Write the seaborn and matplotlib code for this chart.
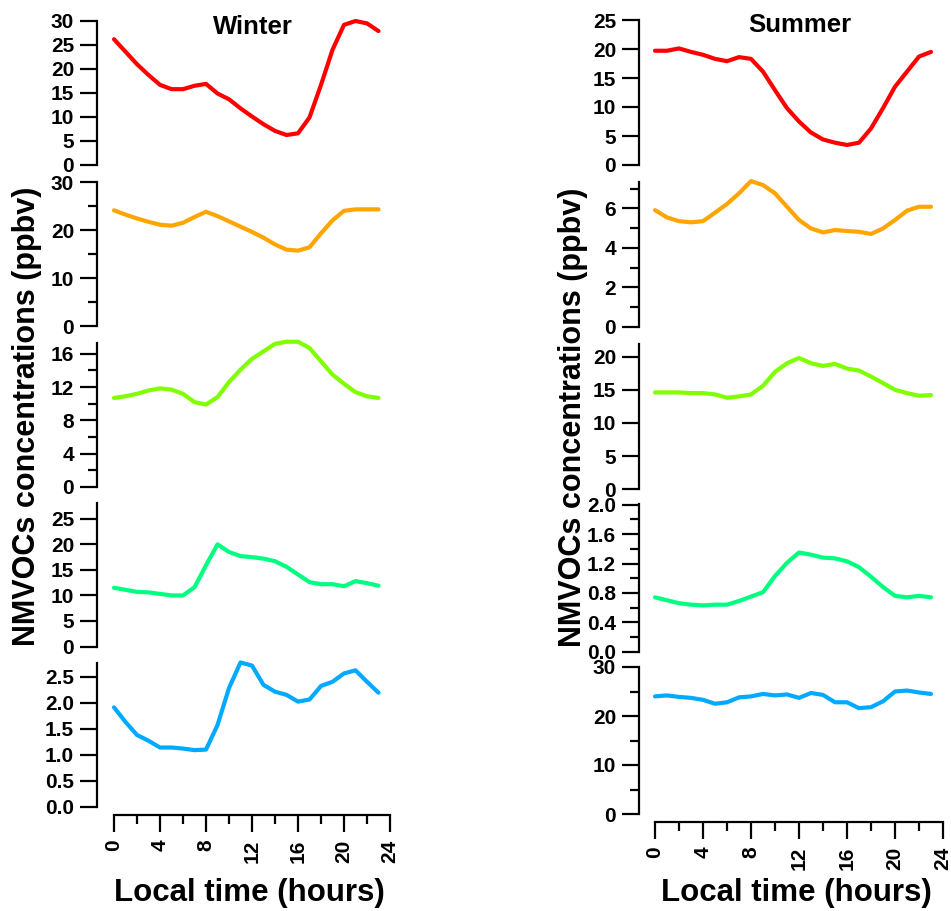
import matplotlib
matplotlib.use("Agg")
import matplotlib.pyplot as plt
import numpy as np
import pandas as pd
import seaborn as sns
from matplotlib.ticker import MultipleLocator, FormatStrFormatter

# ---------------- data ----------------
hours = list(range(24))

winter_red = [26.2, 23.6, 21.0, 18.75, 16.7, 15.8, 15.8, 16.5, 16.9, 14.9, 13.7, 11.8,
              10.1, 8.5, 7.1, 6.25, 6.6, 9.9, 16.7, 24.0, 29.2, 30.0, 29.5, 27.9]
winter_orange = [24.1, 23.2, 22.4, 21.7, 21.1, 20.9, 21.5, 22.7, 23.8, 22.9, 21.8, 20.7,
                 19.6, 18.4, 17.0, 15.9, 15.7, 16.4, 19.3, 22.0, 24.0, 24.3, 24.3, 24.3]
winter_lime = [10.7, 10.9, 11.2, 11.6, 11.85, 11.7, 11.2, 10.2, 9.9, 10.8, 12.6, 14.1,
               15.4, 16.3, 17.2, 17.45, 17.45, 16.7, 15.1, 13.5, 12.4, 11.4, 10.9, 10.7]
winter_spring = [11.5, 11.1, 10.7, 10.6, 10.3, 10.0, 10.0, 11.6, 15.9, 20.0, 18.5, 17.7,
                 17.5, 17.2, 16.7, 15.6, 14.1, 12.6, 12.2, 12.2, 11.8, 12.8, 12.4, 11.9]
winter_blue = [1.91, 1.63, 1.38, 1.27, 1.14, 1.14, 1.12, 1.09, 1.10, 1.57, 2.28, 2.77,
               2.71, 2.34, 2.21, 2.15, 2.02, 2.06, 2.32, 2.40, 2.56, 2.62, 2.40, 2.19]

summer_red = [19.7, 19.7, 20.1, 19.5, 19.0, 18.3, 17.9, 18.6, 18.3, 16.1, 12.9, 9.8,
              7.5, 5.6, 4.4, 3.85, 3.45, 3.85, 6.3, 9.8, 13.5, 16.1, 18.7, 19.5]
summer_orange = [5.91, 5.54, 5.35, 5.29, 5.35, 5.78, 6.22, 6.76, 7.38, 7.18, 6.76, 6.08,
                 5.41, 4.98, 4.78, 4.90, 4.85, 4.81, 4.70, 4.98, 5.41, 5.88, 6.08, 6.08]
summer_lime = [14.6, 14.6, 14.6, 14.5, 14.5, 14.3, 13.8, 14.0, 14.3, 15.6, 17.7, 19.0,
               19.8, 19.0, 18.6, 18.9, 18.2, 17.9, 17.0, 16.0, 15.0, 14.5, 14.1, 14.2]
summer_spring = [0.74, 0.70, 0.66, 0.64, 0.63, 0.64, 0.64, 0.69, 0.75, 0.81, 1.03, 1.21,
                 1.35, 1.32, 1.28, 1.27, 1.23, 1.15, 1.02, 0.88, 0.76, 0.74, 0.76, 0.74]
summer_blue = [24.0, 24.2, 23.9, 23.7, 23.3, 22.5, 22.8, 23.8, 24.0, 24.5, 24.2, 24.4,
               23.7, 24.7, 24.3, 22.8, 22.8, 21.6, 21.8, 23.0, 25.0, 25.2, 24.8, 24.5]

colors = ["#FF0000", "#FFA500", "#80FF00", "#00FF80", "#00AAFF"]
column_titles = ["Winter", "Summer"]
y_label = "NMVOCs concentrations (ppbv)"
x_label = "Local time (hours)"
x_ticks = [0, 4, 8, 12, 16, 20, 24]

winter_series = [winter_red, winter_orange, winter_lime, winter_spring, winter_blue]
summer_series = [summer_red, summer_orange, summer_lime, summer_spring, summer_blue]

# ---------------- style ----------------
sns.set_theme(style="ticks")
plt.rcParams["font.family"] = ["Liberation Sans", "DejaVu Sans"]
plt.rcParams["font.weight"] = "bold"
plt.rcParams["axes.linewidth"] = 1.6
plt.rcParams["text.color"] = "black"
plt.rcParams["axes.labelcolor"] = "black"
plt.rcParams["xtick.color"] = "black"
plt.rcParams["ytick.color"] = "black"
plt.rcParams["axes.edgecolor"] = "black"

W, H = 951, 911
fig = plt.figure(figsize=(W / 100, H / 100), dpi=100)
fig.patch.set_facecolor("white")

# layout in pixels: (left, right, xmin) per column; (top, bottom) per panel
col_layout = [
    dict(left=97, right=390, xmin=-1.478, xcenter=249,
         panels=[(21, 165), (182, 326), (343, 487), (503, 646.5), (663, 807)],
         ylims=[30, 30, 17.3, 28.1, 2.76],
         major=[5, 10, 4, 5, 0.5], minor=[None, 5, 2, None, None],
         fmt=["%d", "%d", "%d", "%d", "%.1f"]),
    dict(left=639, right=943, xmin=-1.333, xcenter=796,
         panels=[(20, 165), (181.7, 326.7), (344, 489.3), (504, 651.7), (667, 814)],
         ylims=[25, 7.35, 21.9, 2.01, 30],
         major=[5, 2, 5, 0.4, 10], minor=[None, 1, None, 0.2, 5],
         fmt=["%d", "%d", "%d", "%.1f", "%d"]),
]

for ci, (lay, series) in enumerate(zip(col_layout, [winter_series, summer_series])):
    for pi, vals in enumerate(series):
        top, bot = lay["panels"][pi]
        ax = fig.add_axes([lay["left"] / W, 1 - bot / H,
                           (lay["right"] - lay["left"]) / W, (bot - top) / H])
        ax.set_facecolor("none")
        df = pd.DataFrame({"hour": hours, "value": vals})
        sns.lineplot(data=df, x="hour", y="value", ax=ax, color=colors[pi],
                     linewidth=3.0, clip_on=False)
        ax.set_xlim(lay["xmin"], 24)
        ax.set_ylim(0, lay["ylims"][pi])
        ax.set_xlabel("")
        ax.set_ylabel("")
        for s in ["top", "right"]:
            ax.spines[s].set_visible(False)
        ax.spines["left"].set_linewidth(1.6)
        ax.yaxis.set_major_locator(MultipleLocator(lay["major"][pi]))
        if lay["minor"][pi]:
            ax.yaxis.set_minor_locator(MultipleLocator(lay["minor"][pi]))
        ax.yaxis.set_major_formatter(FormatStrFormatter(lay["fmt"][pi]))
        ax.tick_params(axis="y", which="major", direction="out", length=12.5, width=1.6,
                       labelsize=15, pad=4, colors="black")
        ax.tick_params(axis="y", which="minor", direction="out", length=6.5, width=1.6,
                       left=True)
        for lab in ax.get_yticklabels():
            lab.set_fontweight("bold")
        if pi < 4:
            ax.spines["bottom"].set_visible(False)
            ax.tick_params(axis="x", which="both", bottom=False, labelbottom=False)
        else:
            ax.spines["bottom"].set_position(("outward", 5.5))
            ax.spines["bottom"].set_bounds(0, 24)
            ax.spines["bottom"].set_linewidth(1.6)
            ax.set_xticks(x_ticks)
            ax.xaxis.set_minor_locator(MultipleLocator(2))
            ax.tick_params(axis="x", which="major", direction="out", length=12, width=1.6,
                           labelsize=15, pad=6, labelrotation=90, colors="black")
            ax.tick_params(axis="x", which="minor", direction="out", length=6.5, width=1.6,
                           bottom=True)
            for lab in ax.get_xticklabels():
                lab.set_fontweight("bold")
                lab.set_va("top")
        # x-axis title below the bottom panel of each column
    fig.text(lay["xcenter"] / W, 1 - 901 / H, x_label, ha="center", va="baseline",
             fontsize=22.5, fontweight="bold")

# column y labels and titles
fig.text(27 / W, 1 - 416 / H, y_label, rotation=90, ha="center", va="center",
         fontsize=22, fontweight="bold")
fig.text(573 / W, 1 - 417 / H, y_label, rotation=90, ha="center", va="center",
         fontsize=22, fontweight="bold")
fig.text(253 / W, 1 - 27 / H, column_titles[0], ha="center", va="center",
         fontsize=18.5, fontweight="bold")
fig.text(800 / W, 1 - 25 / H, column_titles[1], ha="center", va="center",
         fontsize=18.5, fontweight="bold")

fig.savefig("out.png", dpi=100, facecolor="white")
